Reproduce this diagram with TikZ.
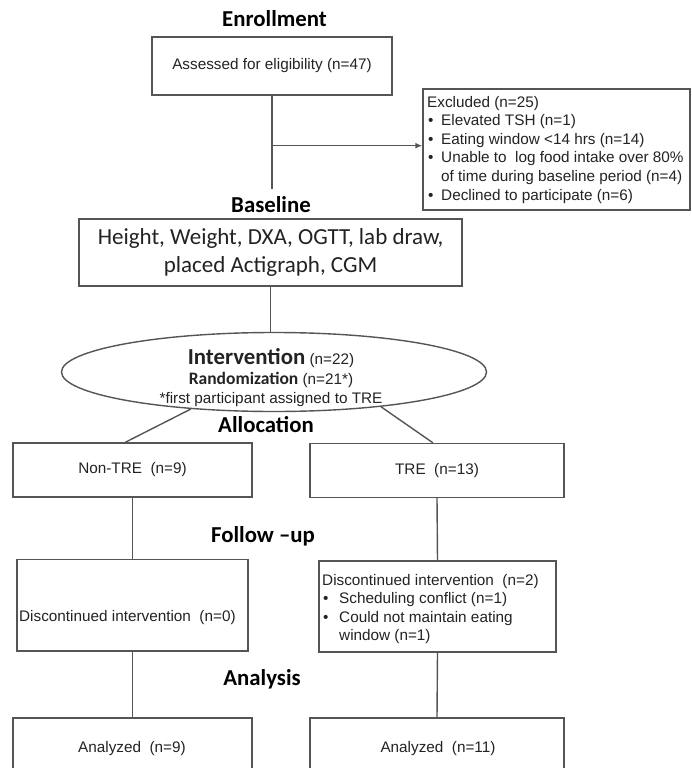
\documentclass[tikz,border=0pt]{standalone}
\usepackage{fontspec}
\setmainfont{Liberation Sans}
\newfontfamily\calfont{Carlito}
\usetikzlibrary{arrows.meta,shapes.geometric,calc}
\definecolor{bord}{RGB}{85,85,85}
\definecolor{txt}{RGB}{35,35,35}
\begin{document}
\begin{tikzpicture}[x=1pt,y=-1pt,
  rbox/.style={draw=bord, line width=1.4pt, inner sep=0pt, text=txt,
    font=\fontsize{15.3}{18.6}\selectfont},
  conn/.style={draw=bord, line width=1.4pt},
  head/.style={anchor=base, inner sep=0pt, text=black,
    font=\calfont\bfseries\fontsize{22.8}{27}\selectfont},
  tl/.style={anchor=base west, inner sep=0pt, text=txt,
    font=\fontsize{15.3}{18.6}\selectfont},
  tc/.style={anchor=base, inner sep=0pt, text=txt,
    font=\fontsize{15.3}{18.6}\selectfont}]
\useasboundingbox (0,0) rectangle (691,768);
\clip (0,0) rectangle (691,768);
\fill[white] (0,0) rectangle (691,768);

% headings
\node[head] (hEnroll) at (274.5,27) {Enrollment};
\node[head] (hBase) at (271,212) {Baseline};
\node[head] (hAlloc) at (266,432) {Allocation};
\node[head] (hFollow) at (263,542) {Follow –up};
\node[head] (hAnal) at (262,685) {Analysis};

% enrollment
\node[rbox, minimum width=240pt, minimum height=58pt] (assess) at (272,66)
  {Assessed for eligibility (n=47)};
\coordinate (aend) at ($(assess.south)+(0,93)$);
\coordinate (j1) at ($(assess.south)+(0,50)$);
\node[rbox, minimum width=267pt, minimum height=121pt] (excl) at (556.5,149.5) {};
\node[tl] (e0) at (427,107) {Excluded (n=25)};
\node[tl] (e1b) at (428,125.6) {•};
\node[tl] (e1) at (441,125.6) {Elevated TSH (n=1)};
\node[tl] (e2b) at (428,144.2) {•};
\node[tl] (e2) at (441,144.2) {Eating window <14 hrs (n=14)};
\node[tl] (e3b) at (428,162.8) {•};
\node[tl] (e3) at (441,162.8) {Unable to \ log food intake over 80\%};
\node[tl] (e4) at (441,181.4) {of time during baseline period (n=4)};
\node[tl] (e5b) at (428,200) {•};
\node[tl] (e5) at (441,200) {Declined to participate (n=6)};

\draw[conn] (assess.south) -- (aend);
\draw[conn, -{Latex[length=7pt,width=6pt]}] (j1) -- (j1 -| excl.west);

% baseline
\node[rbox, minimum width=383pt, minimum height=67pt, align=center,
  font=\calfont\fontsize{23}{28}\selectfont] (base) at (270.5,252.5)
  {Height, Weight, DXA, OGTT, lab draw,\\placed Actigraph, CGM};

% intervention
\node[ellipse, draw=bord, line width=1.4pt, minimum width=425pt, minimum height=79pt,
  inner sep=0pt] (ell) at (274,372) {};
\node[tc] (i1) at (271,364) {{\calfont\bfseries\fontsize{22.8}{27}\selectfont Intervention} (n=22)};
\node[tc] (i2) at (271,384) {{\calfont\bfseries\fontsize{17.5}{21}\selectfont Randomization} (n=21*)};
\node[tc] (i3) at (271,403.5) {*first participant assigned to TRE};
\draw[conn] (base.south) -- (base.south |- ell.north);

% allocation
\node[rbox, minimum width=239pt, minimum height=54pt] (nontre) at (132.5,470)
  {Non-TRE \ (n=9)};
\node[rbox, minimum width=254pt, minimum height=54pt] (tre) at (437,470.5)
  {TRE \ (n=13)};
\draw[conn] (ell.204) -- ($(nontre.north west)!0.47!(nontre.north east)$);
\draw[conn] (ell.342) -- ($(tre.north west)!0.484!(tre.north east)$);

% follow-up
\node[rbox, minimum width=231pt, minimum height=91.5pt] (disc0) at (132.5,605.25) {};
\node[tl] (d0) at (19,621) {Discontinued intervention \ (n=0)};
\node[rbox, minimum width=237pt, minimum height=91pt] (disc2) at (437.5,606.5) {};
\node[tl] (d1) at (322,585) {Discontinued intervention \ (n=2)};
\node[tl] (d2b) at (323,603.5) {•};
\node[tl] (d2) at (339,603.5) {Scheduling conflict (n=1)};
\node[tl] (d3b) at (323,622) {•};
\node[tl] (d3) at (339,622) {Could not maintain eating};
\node[tl] (d4) at (339,640.5) {window (n=1)};
\draw[conn] (nontre.south) -- (disc0.north);
\draw[conn] (tre.south) -- (disc2.north);

% analysis
\node[rbox, minimum width=239pt, minimum height=72pt] (an0) at (132.5,754) {};
\node[rbox, minimum width=254pt, minimum height=72pt] (an2) at (437,754) {};
\node[tc] (a0) at (132,752) {Analyzed \ (n=9)};
\node[tc] (a2) at (438,752) {Analyzed \ (n=11)};
\draw[conn] (disc0.south) -- (an0.north);
\draw[conn] (disc2.south) -- (an2.north);
\end{tikzpicture}
\end{document}
